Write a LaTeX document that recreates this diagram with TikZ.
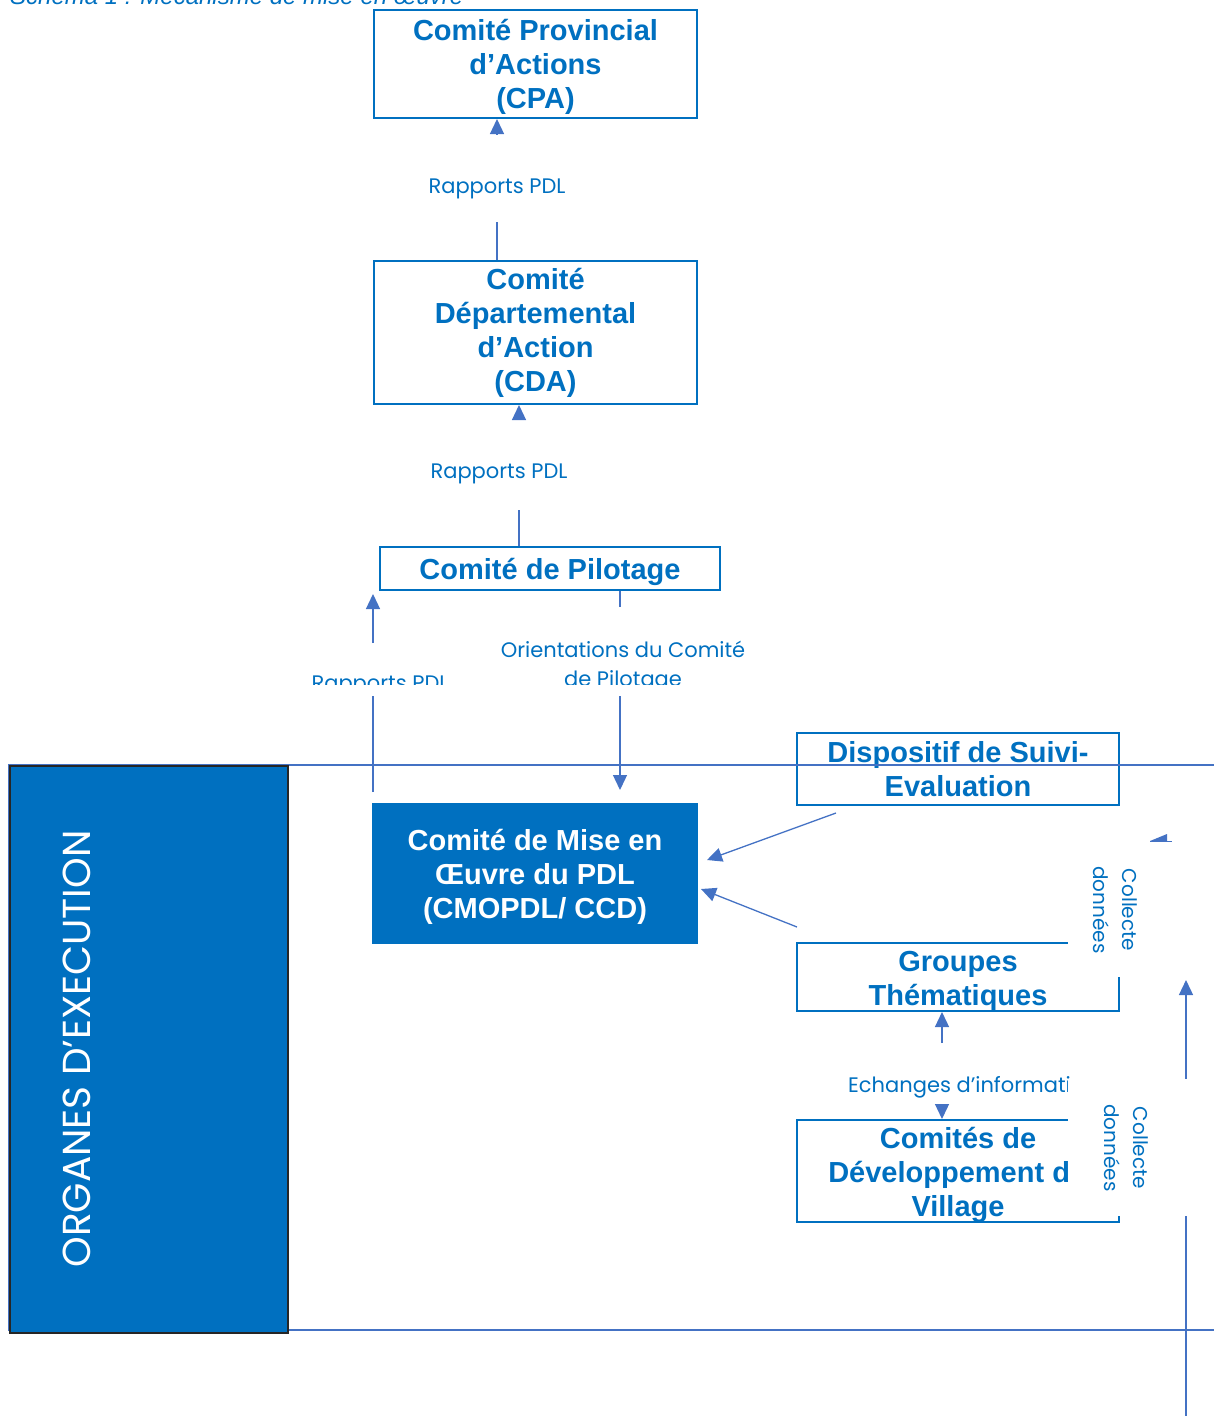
\documentclass[tikz,border=0pt]{standalone}
\usepackage{fontspec}
\setmainfont{Liberation Sans}
\newfontfamily\gothic{Poppins}
\usetikzlibrary{arrows.meta}
\definecolor{boxblue}{HTML}{0070C0}
\definecolor{linkblue}{HTML}{4472C4}
\tikzset{
  box/.style={draw=boxblue, line width=2pt, inner sep=0pt},
  btext/.style={text=boxblue, font=\bfseries\fontsize{29}{34}\selectfont, align=center, inner sep=0pt},
  conn/.style={draw=linkblue, line width=1.3pt},
  arr/.style={conn, -{Triangle[length=15pt,width=14pt]}},
  lab/.style={text=boxblue, font=\gothic\fontsize{21}{29}\selectfont, inner sep=0pt, align=center},
  vlab/.style={text=boxblue, font=\gothic\fontsize{20}{29}\selectfont, inner sep=0pt, align=center, rotate=-90},
}
\begin{document}
\begin{tikzpicture}[x=1pt,y=-1pt]
\useasboundingbox (0,0) rectangle (1214,1416);
\clip (0,0) rectangle (1214,1416);
% title (cut at top)
\node[anchor=base west, text=boxblue, font=\itshape\fontsize{24}{28}\selectfont, inner sep=0pt] (title) at (10,5) {Schéma 1 : Mécanisme de mise en œuvre};
% boxes
\node[box, minimum width=323, minimum height=108,
  label={[btext, yshift=-3pt]center:{Comité Provincial\\d’Actions\\(CPA)}}] (cpa) at (535.5,64) {};
\node[box, minimum width=323, minimum height=143,
  label={[btext]center:{Comité\\Départemental\\d’Action\\(CDA)}}] (cda) at (535.5,332.5) {};
\node[box, minimum width=340, minimum height=43,
  label={[btext, yshift=-3pt]center:{Comité de Pilotage}}] (pil) at (550,568.5) {};
\node[box, fill=boxblue, minimum width=324, minimum height=139,
  label={[btext, text=white, yshift=-3.5pt]center:{Comité de Mise en\\Œuvre du PDL\\(CMOPDL/ CCD)}}] (cmo) at (535,873.5) {};
\node[box, minimum width=322, minimum height=72,
  label={[btext, yshift=-0.5pt]center:{Dispositif de Suivi-\\Evaluation}}] (dse) at (958,769) {};
\node[box, minimum width=322, minimum height=68,
  label={[btext, yshift=-4pt]center:{Groupes\\Thématiques}}] (gt) at (958,977) {};
\node[box, minimum width=322, minimum height=102,
  label={[btext, yshift=-4pt]center:{Comités de\\Développement du\\Village}}] (cdv) at (958,1171) {};
% labels
\node[lab, anchor=base, text height=59pt, text depth=29pt] (lab1) at (497,193) {Rapports PDL};
\node[lab, anchor=base] (lab2) at (499,478) {Rapports PDL};
\node[lab, anchor=base] (lab4a) at (623,657) {Orientations du Comité};
\begin{scope}
\clip (280,600) rectangle (780,684.5);
\node[lab, anchor=base] (lab3) at (380,690) {Rapports PDL};
\node[lab, anchor=base] (lab4b) at (623,686) {de Pilotage};
\end{scope}
\node[lab, anchor=base west] (lab5) at (848,1092) {Echanges d’information};
% connectors
\draw[conn] (lab1.south) -- (lab1.south |- cda.north);
\draw[arr] (lab1.north) -- (lab1.north |- cpa.south);
\coordinate (l2t) at (519,419);
\coordinate (l2b) at (519,510);
\draw[conn] (l2b) -- (l2b |- pil.north);
\draw[arr] (l2t) -- (l2t |- cda.south);
\coordinate (l3a) at (373,643);
\coordinate (l3tip) at (373,594);
\coordinate (l3b) at (373,696);
\coordinate (l3end) at (373,792);
\draw[arr] (l3a) -- (l3tip);
\draw[conn] (l3end) -- (l3b);
\coordinate (l4a) at (620,607);
\coordinate (l4b) at (620,696);
\coordinate (l4tip) at (620,790);
\draw[conn] (l4a |- pil.south) -- (l4a);
\draw[arr] (l4b) -- (l4tip);
\coordinate (a1s) at (836,813);
\coordinate (a1t) at (707,860);
\draw[arr] (a1s) -- (a1t);
\coordinate (a2s) at (797,927);
\coordinate (a2t) at (701,889);
\draw[arr] (a2s) -- (a2t);
\coordinate (e1) at (942,1043);
\coordinate (e2) at (942,1105);
\draw[arr] (e1) -- (e1 |- gt.south);
\draw[arr] (e2) -- (e2 |- cdv.north);
\coordinate (r1) at (1186,1416);
\coordinate (r2) at (1186,980);
\draw[arr] (r1) -- (r2);
% frame
\draw[linkblue, line width=2pt] (9,764.5) rectangle (1230,1329.5);
% organes
\node[fill=boxblue, draw=black!85, line width=1.5pt, minimum width=278, minimum height=567, inner sep=0pt] (org) at (149,1049.5) {};
\node[rotate=90, text=white, font=\gothic\fontsize{39}{44}\selectfont, inner sep=0pt] (orgtxt) at (77,1049) {ORGANES D’EXECUTION};
% white text boxes for Collecte données
\fill[white] (1068,842) rectangle (1176,977);
\fill[white] (1068,1079) rectangle (1200,1216);
\node[vlab] (col1) at (1115.5,910) {Collecte\\données};
\node[vlab] (col2) at (1126.5,1148) {Collecte\\données};
% arrowhead fragment
\fill[linkblue] (1150,841) -- (1167,834) -- (1167,841) -- cycle;
\draw[linkblue, line width=1pt] (1150,841) -- (1172,841);
\end{tikzpicture}
\end{document}
